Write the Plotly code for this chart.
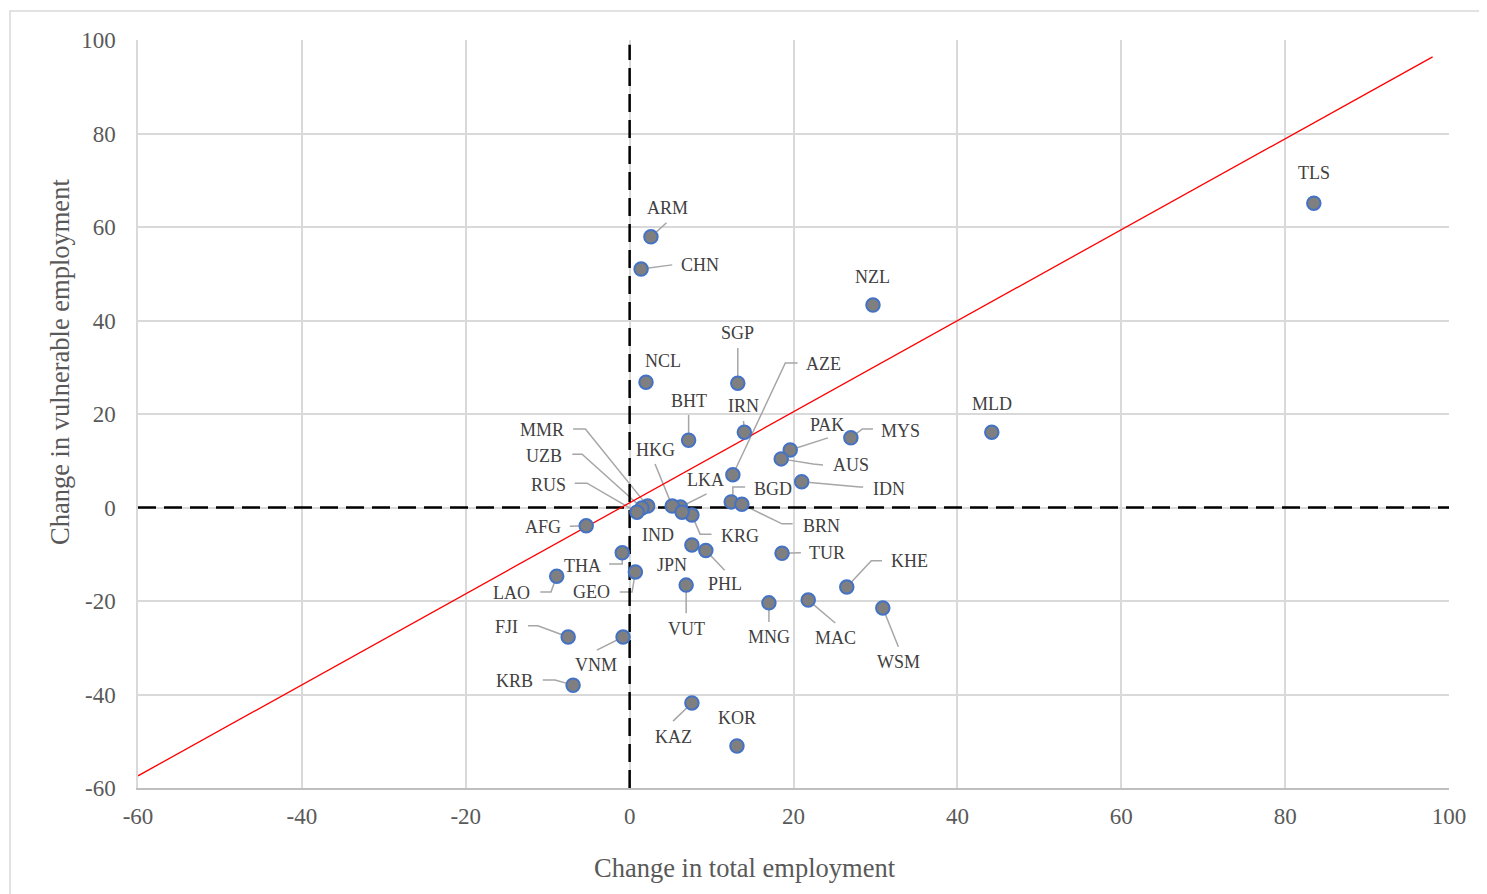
import plotly.graph_objects as go

# ---- data ----
codes = ["TLS", "ARM", "CHN", "NZL", "MLD", "SGP", "NCL", "BHT", "IRN", "AZE",
         "PAK", "MYS", "AUS", "IDN", "BGD", "BRN", "KRG", "LKA", "HKG", "IND",
         "MMR", "UZB", "RUS", "AFG", "THA", "LAO", "GEO", "JPN", "PHL", "VUT",
         "TUR", "KHE", "MNG", "MAC", "WSM", "FJI", "VNM", "KRB", "KAZ", "KOR"]
total_emp = [83.5, 2.6, 1.4, 29.7, 44.2, 13.2, 2.0, 7.2, 14.0, 12.6,
             19.6, 27.0, 18.5, 21.0, 12.4, 13.7, 7.6, 6.2, 5.2, 6.4,
             2.2, 1.5, 0.9, -5.3, -0.9, -8.9, 0.7, 7.6, 9.3, 6.9,
             18.6, 26.5, 17.0, 21.8, 30.9, -7.5, -0.8, -6.9, 7.6, 13.1]
vuln_emp = [65.1, 57.9, 51.0, 43.3, 16.1, 26.6, 26.8, 14.4, 16.1, 7.0,
            12.3, 14.9, 10.4, 5.5, 1.2, 0.7, -1.6, 0.1, 0.3, -1.0,
            0.3, -0.1, -1.0, -3.9, -9.7, -14.7, -13.8, -8.0, -9.2, -16.6,
            -9.8, -17.0, -20.4, -19.8, -21.5, -27.7, -27.7, -38.0, -41.8, -51.0]

# trend line end points
trend_x = [-60, 98]
trend_y = [-57.4, 96.4]

x_ticks = [-60, -40, -20, 0, 20, 40, 60, 80, 100]
y_ticks = [-60, -40, -20, 0, 20, 40, 60, 80, 100]

# ---- label layout (positions in data units; leader elbow vertices) ----
label_pos = {
    "TLS": (83.5, 71.6), "ARM": (4.6, 64.1), "CHN": (8.6, 51.9), "NZL": (29.7, 49.3),
    "MLD": (44.2, 22.1), "SGP": (13.2, 37.3), "NCL": (4.1, 31.3), "BHT": (7.2, 22.8),
    "IRN": (13.9, 21.7), "AZE": (23.7, 30.7), "PAK": (24.1, 17.6), "MYS": (33.1, 16.4),
    "AUS": (27.0, 9.1), "IDN": (31.7, 4.0), "BGD": (17.5, 3.9), "BRN": (23.4, -4.0),
    "KRG": (13.5, -6.1), "LKA": (9.3, 5.9), "HKG": (3.1, 12.3), "IND": (3.5, -5.9),
    "MMR": (-10.7, 16.6), "UZB": (-10.4, 11.0), "RUS": (-9.9, 4.8), "AFG": (-10.6, -4.2),
    "THA": (-5.8, -12.5), "LAO": (-14.4, -18.3), "GEO": (-4.6, -18.0), "JPN": (5.2, -12.3),
    "PHL": (11.6, -16.4), "VUT": (6.9, -26.0), "TUR": (24.1, -9.7), "KHE": (34.2, -11.4),
    "MNG": (17.0, -27.7), "MAC": (25.1, -27.9), "WSM": (32.8, -33.0), "FJI": (-15.0, -25.6),
    "VNM": (-4.1, -33.7), "KRB": (-14.0, -37.1), "KAZ": (5.3, -49.1), "KOR": (13.1, -45.0),
}
leaders = {
    "ARM": [(4.5, 60.9)],
    "CHN": [(5.2, 51.9)],
    "SGP": [(13.2, 34.1)],
    "BHT": [(7.2, 19.8)],
    "IRN": [(13.9, 18.5)],
    "AZE": [(20.5, 30.9), (19.0, 30.9)],
    "PAK": [(24.2, 14.9)],
    "MYS": [(29.7, 16.8), (28.4, 16.8)],
    "AUS": [(23.6, 9.1), (22.4, 9.3)],
    "IDN": [(28.5, 4.4), (28.1, 4.4)],
    "BGD": [(14.1, 4.4), (12.6, 4.4), (12.6, 1.6)],
    "BRN": [(19.9, -3.5), (18.6, -3.5)],
    "KRG": [(10.0, -5.7), (8.6, -5.7)],
    "LKA": [(9.4, 2.9)],
    "HKG": [(3.1, 9.3)],
    "MMR": [(-6.9, 16.8), (-5.4, 16.8)],
    "UZB": [(-7.0, 11.4), (-5.8, 11.4)],
    "RUS": [(-6.7, 5.2), (-5.2, 5.2)],
    "AFG": [(-7.3, -4.0)],
    "THA": [(-2.5, -12.1), (-0.9, -12.1)],
    "LAO": [(-10.9, -18.1), (-9.6, -18.1)],
    "GEO": [(-1.2, -18.1), (0.3, -18.1)],
    "PHL": [(11.6, -13.4)],
    "VUT": [(6.9, -22.6)],
    "TUR": [(20.9, -9.7)],
    "KHE": [(30.8, -11.4), (29.5, -11.4)],
    "MNG": [(17.0, -24.5)],
    "MAC": [(25.1, -24.7)],
    "WSM": [(32.8, -29.8)],
    "FJI": [(-12.4, -25.3), (-11.2, -25.3)],
    "VNM": [(-4.0, -30.5)],
    "KRB": [(-10.6, -36.9), (-9.1, -36.9)],
    "KAZ": [(5.3, -45.7)],
}

SERIF = "Liberation Serif, Times New Roman, serif"

fig = go.Figure()

# leader lines
lx, ly = [], []
for i, c in enumerate(codes):
    if c in leaders:
        for (a, b) in leaders[c]:
            lx.append(a)
            ly.append(b)
        lx.append(total_emp[i])
        ly.append(vuln_emp[i])
        lx.append(None)
        ly.append(None)
fig.add_trace(go.Scatter(x=lx, y=ly, mode="lines", hoverinfo="skip",
                         line=dict(color="#a6a6a6", width=1.5), showlegend=False))

# dashed quadrant lines
fig.add_trace(go.Scatter(x=[0, 0], y=[y_ticks[0], 99], mode="lines", hoverinfo="skip",
                         line=dict(color="black", width=2.5, dash="18px,8px"), showlegend=False))
fig.add_trace(go.Scatter(x=[x_ticks[0], x_ticks[-1]], y=[0, 0], mode="lines", hoverinfo="skip",
                         line=dict(color="black", width=2.5, dash="18px,8px"), showlegend=False))

# trend line
fig.add_trace(go.Scatter(x=trend_x, y=trend_y, mode="lines", hoverinfo="skip",
                         line=dict(color="#ff0000", width=1.3), showlegend=False))

# points
fig.add_trace(go.Scatter(x=total_emp, y=vuln_emp, mode="markers", text=codes,
                         marker=dict(size=13.5, color="#7f7f7f",
                                     line=dict(color="#4472c4", width=2)),
                         showlegend=False))

annotations = []
for c in codes:
    px, py = label_pos[c]
    annotations.append(dict(x=px, y=py, xref="x", yref="y", text=c, showarrow=False,
                            font=dict(family=SERIF, size=18, color="#404040"),
                            xanchor="center", yanchor="middle"))

# plot area in page pixels: x 138..1449, y 40..788 (page has an 8px body offset)
PL, PW, PB, PH = 138, 1311, 788, 748

annotations.append(dict(x=(745 - PL) / PW, y=(PB - 868) / PH, xref="paper", yref="paper",
                        text="Change in total employment", showarrow=False,
                        font=dict(family=SERIF, size=26.5, color="#595959"),
                        xanchor="center", yanchor="middle"))
annotations.append(dict(x=(60 - PL) / PW, y=(PB - 362) / PH, xref="paper", yref="paper",
                        text="Change in vulnerable employment", showarrow=False, textangle=-90,
                        font=dict(family=SERIF, size=26.5, color="#595959"),
                        xanchor="center", yanchor="middle"))

fig.update_layout(
    width=1479, height=886,
    margin=dict(l=130, r=38, t=32, b=106),
    paper_bgcolor="white", plot_bgcolor="white",
    annotations=annotations,
    shapes=[dict(type="rect", xref="paper", yref="paper",
                 x0=(10 - PL) / PW, x1=(1500 - PL) / PW,
                 y0=(PB - 905) / PH, y1=(PB - 11) / PH,
                 line=dict(color="#d9d9d9", width=1.5), fillcolor="rgba(0,0,0,0)",
                 layer="below")],
)
fig.update_xaxes(range=[x_ticks[0], x_ticks[-1]], tickvals=x_ticks,
                 ticktext=[str(v) for v in x_ticks],
                 showgrid=True, gridcolor="#d9d9d9", gridwidth=1.5, zeroline=False,
                 showline=True, linecolor="#bfbfbf", linewidth=1.5, mirror=False,
                 ticks="outside", ticklen=7, tickcolor="rgba(0,0,0,0)",
                 tickfont=dict(family=SERIF, size=23, color="#595959"))
fig.update_yaxes(range=[y_ticks[0], y_ticks[-1]], tickvals=y_ticks,
                 ticktext=[str(v) for v in y_ticks],
                 showgrid=True, gridcolor="#d9d9d9", gridwidth=1.5, zeroline=False,
                 showline=True, linecolor="#d9d9d9", linewidth=1.5,
                 ticks="outside", ticklen=16, tickcolor="rgba(0,0,0,0)",
                 tickfont=dict(family=SERIF, size=23, color="#595959"))

fig.write_html("out.html")
